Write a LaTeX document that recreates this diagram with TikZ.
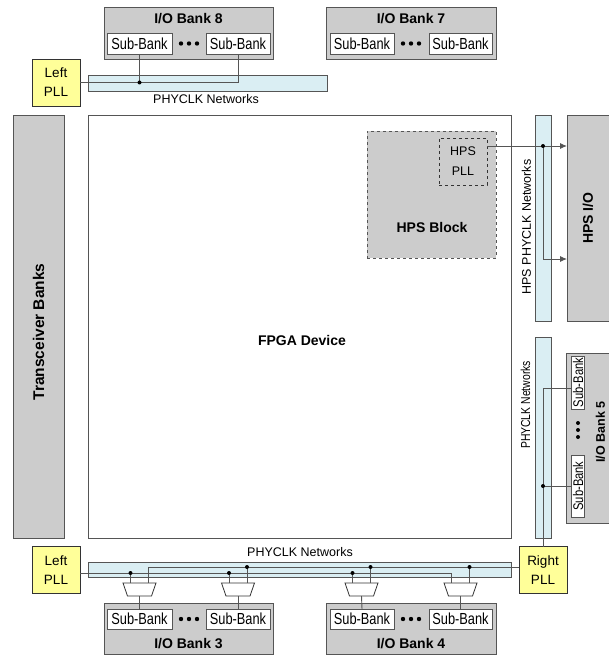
\documentclass[tikz,border=0pt]{standalone}
\usepackage{fontspec}
\setmainfont{Liberation Sans}
\newfontfamily\narrowfont{Liberation Sans}[FakeStretch=0.8]
\usetikzlibrary{shapes.geometric,arrows.meta}
\definecolor{bankgray}{HTML}{CCCCCC}
\definecolor{edge}{HTML}{555555}
\definecolor{barblue}{HTML}{DAEEF3}
\definecolor{pllyellow}{HTML}{FFFF99}
\newcommand{\normfont}{\fontsize{12.5}{19}\selectfont}
\newcommand{\boldfont}{\bfseries\fontsize{14}{16}\selectfont}
\begin{document}
\begin{tikzpicture}[x=1pt,y=-1pt,
  every node/.style={inner sep=0pt, outer sep=0pt, font=\normfont},
  bank/.style={rectangle, draw=edge, fill=bankgray, line width=0.9pt},
  subbank/.style={rectangle, draw=edge, fill=white, line width=0.9pt, minimum height=21, font=\narrowfont\fontsize{16}{18}\selectfont},
  vsub/.style={rectangle, draw=edge, fill=white, line width=0.9pt, rotate=90, minimum height=13, font=\narrowfont\fontsize{14}{16}\selectfont},
  pll/.style={rectangle, draw=black!80, fill=pllyellow, line width=0.9pt, minimum width=48, minimum height=47, align=center, font=\fontsize{13.5}{19}\selectfont},
  bar/.style={rectangle, draw=edge, fill=barblue, line width=0.9pt},
  title/.style={font=\boldfont},
  wire/.style={draw=edge, line width=0.9pt},
  muxbox/.style={rectangle, minimum width=33, minimum height=13},
  muxline/.style={draw=black!80, fill=white, line width=0.8pt},
  dotc/.style={fill=black},
  arr/.style={wire, -{Latex[length=7pt,width=6pt]}}
]
\useasboundingbox (0,0) rectangle (609,655);

% ---------- top banks ----------
\node[bank, minimum width=169, minimum height=52] (b8) at (188.5,33) {};
\node[title] (t8) at (188.5,18.5) {I/O Bank 8};
\node[subbank, minimum width=65] (s8a) at (139.5,43.5) {Sub-Bank};
\node[subbank, minimum width=64] (s8b) at (238,43.5) {Sub-Bank};
\foreach \x in {181,189,197} \fill[dotc] (\x,43.5) circle (2.2);

\node[bank, minimum width=170, minimum height=52] (b7) at (411,33) {};
\node[title] (t7) at (411,18.5) {I/O Bank 7};
\node[subbank, minimum width=64] (s7a) at (362,43.5) {Sub-Bank};
\node[subbank, minimum width=63] (s7b) at (460.5,43.5) {Sub-Bank};
\foreach \x in {403,411,419} \fill[dotc] (\x,43.5) circle (2.2);

% ---------- top left PLL and bar ----------
\node[pll] (lplT) at (56,82.5) {Left\\PLL};
\node[bar, minimum width=239, minimum height=16] (barT) at (207.5,83) {};
\node (lbT) at (206,99.5) {PHYCLK Networks};
\draw[wire] (lplT.east) -| (s8b.south);
\draw[wire] (s8a.south) -- (s8a.south |- lplT.east);
\fill[dotc] (s8a.south |- lplT.east) circle (2);

% ---------- transceiver and FPGA ----------
\node[bank, minimum width=51, minimum height=423] (xcvr) at (38.5,326.5) {};
\node[title, rotate=90, font=\bfseries\fontsize{15.5}{17}\selectfont] (xcvrt) at (38.5,332) {Transceiver Banks};
\node[rectangle, draw=edge, fill=white, line width=0.9pt, minimum width=423, minimum height=423] (fpga) at (299.5,326.5) {};
\node[title] (fpgat) at (302,340) {FPGA Device};

% ---------- HPS ----------
\node[rectangle, draw=edge, dashed, fill=bankgray, line width=0.9pt, minimum width=129, minimum height=127] (hpsb) at (431.5,194.5) {};
\node[title] (hpsbt) at (432,227) {HPS Block};
\node[rectangle, draw=black!80, dashed, fill=bankgray, line width=0.9pt, minimum width=48, minimum height=47, align=center, font=\fontsize{12.5}{20}\selectfont] (hpspll) at (463,161.5) {HPS\\PLL};
\node[bar, minimum width=16, minimum height=206] (hpsbar) at (543,218) {};
\node[rotate=90] (hpsbart) at (526.5,227) {HPS PHYCLK Networks};
\node[bank, minimum width=60, minimum height=206] (hpsio) at (597,218) {};
\node[title, rotate=90] (hpsiot) at (588,218) {HPS I/O};
\draw[arr] ([yshift=15.5]hpspll.east) -- ([yshift=15.5]hpspll.east -| hpsio.west);
\draw[arr] ([yshift=15.5]hpspll.east -| hpsbar.center) |- ([yshift=-41]hpsio.west);
\fill[dotc] ([yshift=15.5]hpspll.east -| hpsbar.center) circle (2);

% ---------- right side ----------
\node[bar, minimum width=16, minimum height=201] (barR) at (543,437.5) {};
\node[rotate=90, font=\narrowfont\fontsize{13}{15}\selectfont] (lbR) at (525.5,405) {PHYCLK Networks};
\node[bank, minimum width=60, minimum height=170] (b5) at (596,438) {};
\node[vsub, minimum width=53] (s5a) at (578,382.5) {Sub-Bank};
\node[vsub, minimum width=62] (s5b) at (578,486) {Sub-Bank};
\foreach \y in {423,430,437} \fill[dotc] (578,\y) circle (2);
\node[title, rotate=90, font=\bfseries\fontsize{12.5}{14}\selectfont] (t5) at (600.5,432) {I/O Bank 5};
\node[pll] (rpll) at (543,570) {Right\\PLL};
\draw[wire] ([yshift=-5.5]s5a.north) -| (rpll.north);
\draw[wire] (s5b.north) -- (s5b.north -| rpll.north);
\fill[dotc] (s5b.north -| rpll.north) circle (2);

% ---------- bottom ----------
\node[pll] (lplB) at (56,570) {Left\\PLL};
\node[bar, minimum width=423, minimum height=15] (barB) at (299.5,569.5) {};
\node (lbB) at (300,552.5) {PHYCLK Networks};

\node[bank, minimum width=169, minimum height=51] (b3) at (188.5,628.5) {};
\node[title] (t3) at (188.5,643.5) {I/O Bank 3};
\node[subbank, minimum width=65, minimum height=20] (s3a) at (139.5,619) {Sub-Bank};
\node[subbank, minimum width=64, minimum height=20] (s3b) at (238,619) {Sub-Bank};
\foreach \x in {181,189,197} \fill[dotc] (\x,619) circle (2.2);

\node[bank, minimum width=170, minimum height=51] (b4) at (411,628.5) {};
\node[title] (t4) at (411,643.5) {I/O Bank 4};
\node[subbank, minimum width=64, minimum height=20] (s4a) at (362,619) {Sub-Bank};
\node[subbank, minimum width=63, minimum height=20] (s4b) at (460.5,619) {Sub-Bank};
\foreach \x in {403,411,419} \fill[dotc] (\x,619) circle (2.2);

\node[muxbox] (m1) at (139.5,589.5) {};
\node[muxbox] (m2) at (238,589.5) {};
\node[muxbox] (m3) at (361.5,589.5) {};
\node[muxbox] (m4) at (460.5,589.5) {};
\foreach \m in {m1,m2,m3,m4}
  \draw[muxline] (\m.north west) -- (\m.north east) -- ([xshift=-4.5]\m.south east) -- ([xshift=4.5]\m.south west) -- cycle;
\foreach \m/\s in {m1/s3a,m2/s3b,m3/s4a,m4/s4b} \draw[wire] (\m.south) -- (\s.north);

\coordinate (lowL) at ([yshift=-3]lplB.east);
\coordinate (upR) at ([yshift=3]rpll.west);
\draw[wire] (lowL) -| ([xshift=-9]m4.north);
\draw[wire] (upR) -| ([xshift=9]m1.north);
\foreach \m in {m1,m2,m3} {
  \draw[wire] ([xshift=-9]\m.north) -- ([xshift=-9]\m.north |- lowL);
  \fill[dotc] ([xshift=-9]\m.north |- lowL) circle (2);
}
\foreach \m in {m2,m3,m4} {
  \draw[wire] ([xshift=9]\m.north) -- ([xshift=9]\m.north |- upR);
  \fill[dotc] ([xshift=9]\m.north |- upR) circle (2);
}
\end{tikzpicture}
\end{document}
